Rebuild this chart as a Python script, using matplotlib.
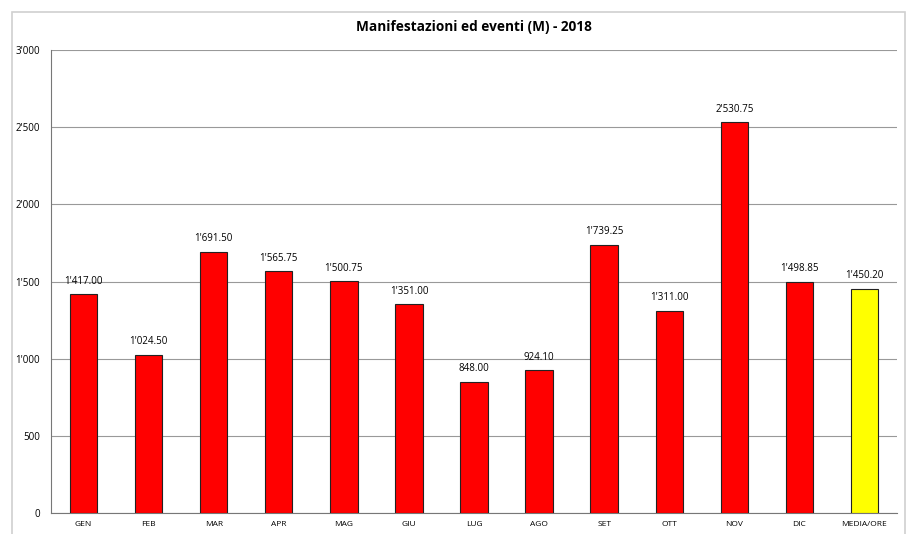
import matplotlib
matplotlib.use("Agg")
import matplotlib.pyplot as plt
from matplotlib.patches import Rectangle
from matplotlib.ticker import FuncFormatter

plt.rcParams['font.family'] = ['Open Sans', 'DejaVu Sans']

mesi = ['GEN', 'FEB', 'MAR', 'APR', 'MAG', 'GIU', 'LUG', 'AGO', 'SET', 'OTT', 'NOV', 'DIC', 'MEDIA/ORE']
ore = [1417.00, 1024.50, 1691.50, 1565.75, 1500.75, 1351.00, 848.00, 924.10, 1739.25, 1311.00, 2530.75, 1498.85, 1450.20]
colori = ['#ff0000'] * 12 + ['#ffff00']


def apice(v, decimali=0):
    s = f"{v:,.{decimali}f}"
    return s.replace(',', "'")


fig = plt.figure(figsize=(9.08, 5.34), dpi=100)
ax = fig.add_axes([51 / 908, 21 / 534, 846 / 908, 463 / 534])

x = range(len(mesi))
ax.bar(x, ore, width=0.42, color=colori, edgecolor='#222222', linewidth=0.8, zorder=3)

for i, v in enumerate(ore):
    ax.text(i, v + 50, apice(v, 2), ha='center', va='bottom', fontsize=7)

ax.set_xlim(-0.5, len(mesi) - 0.5)
ax.set_ylim(0, 3000)
ax.set_yticks(range(0, 3001, 500))
ax.yaxis.set_major_formatter(FuncFormatter(lambda v, p: apice(v)))
ax.set_xticks(list(x))
ax.set_xticklabels(mesi, fontsize=6)
ax.tick_params(axis='y', labelsize=7, length=0, pad=8)
ax.tick_params(axis='x', length=0, pad=6)
ax.grid(axis='y', color='#999999', linewidth=0.8, zorder=0)

for s in ['top', 'right']:
    ax.spines[s].set_visible(False)
ax.spines['left'].set_color('#777777')
ax.spines['bottom'].set_color('#777777')

ax.set_title('Manifestazioni ed eventi (M) - 2018', fontsize=9.8, fontweight='bold', pad=14)

# cornice esterna del grafico
fig.patches.append(Rectangle((12 / 908, -0.05), 893 / 908, 1.05 - 12 / 534, transform=fig.transFigure,
                             fill=False, edgecolor='#d0d0d0', linewidth=1.2))

fig.savefig('out.png', dpi=100)
